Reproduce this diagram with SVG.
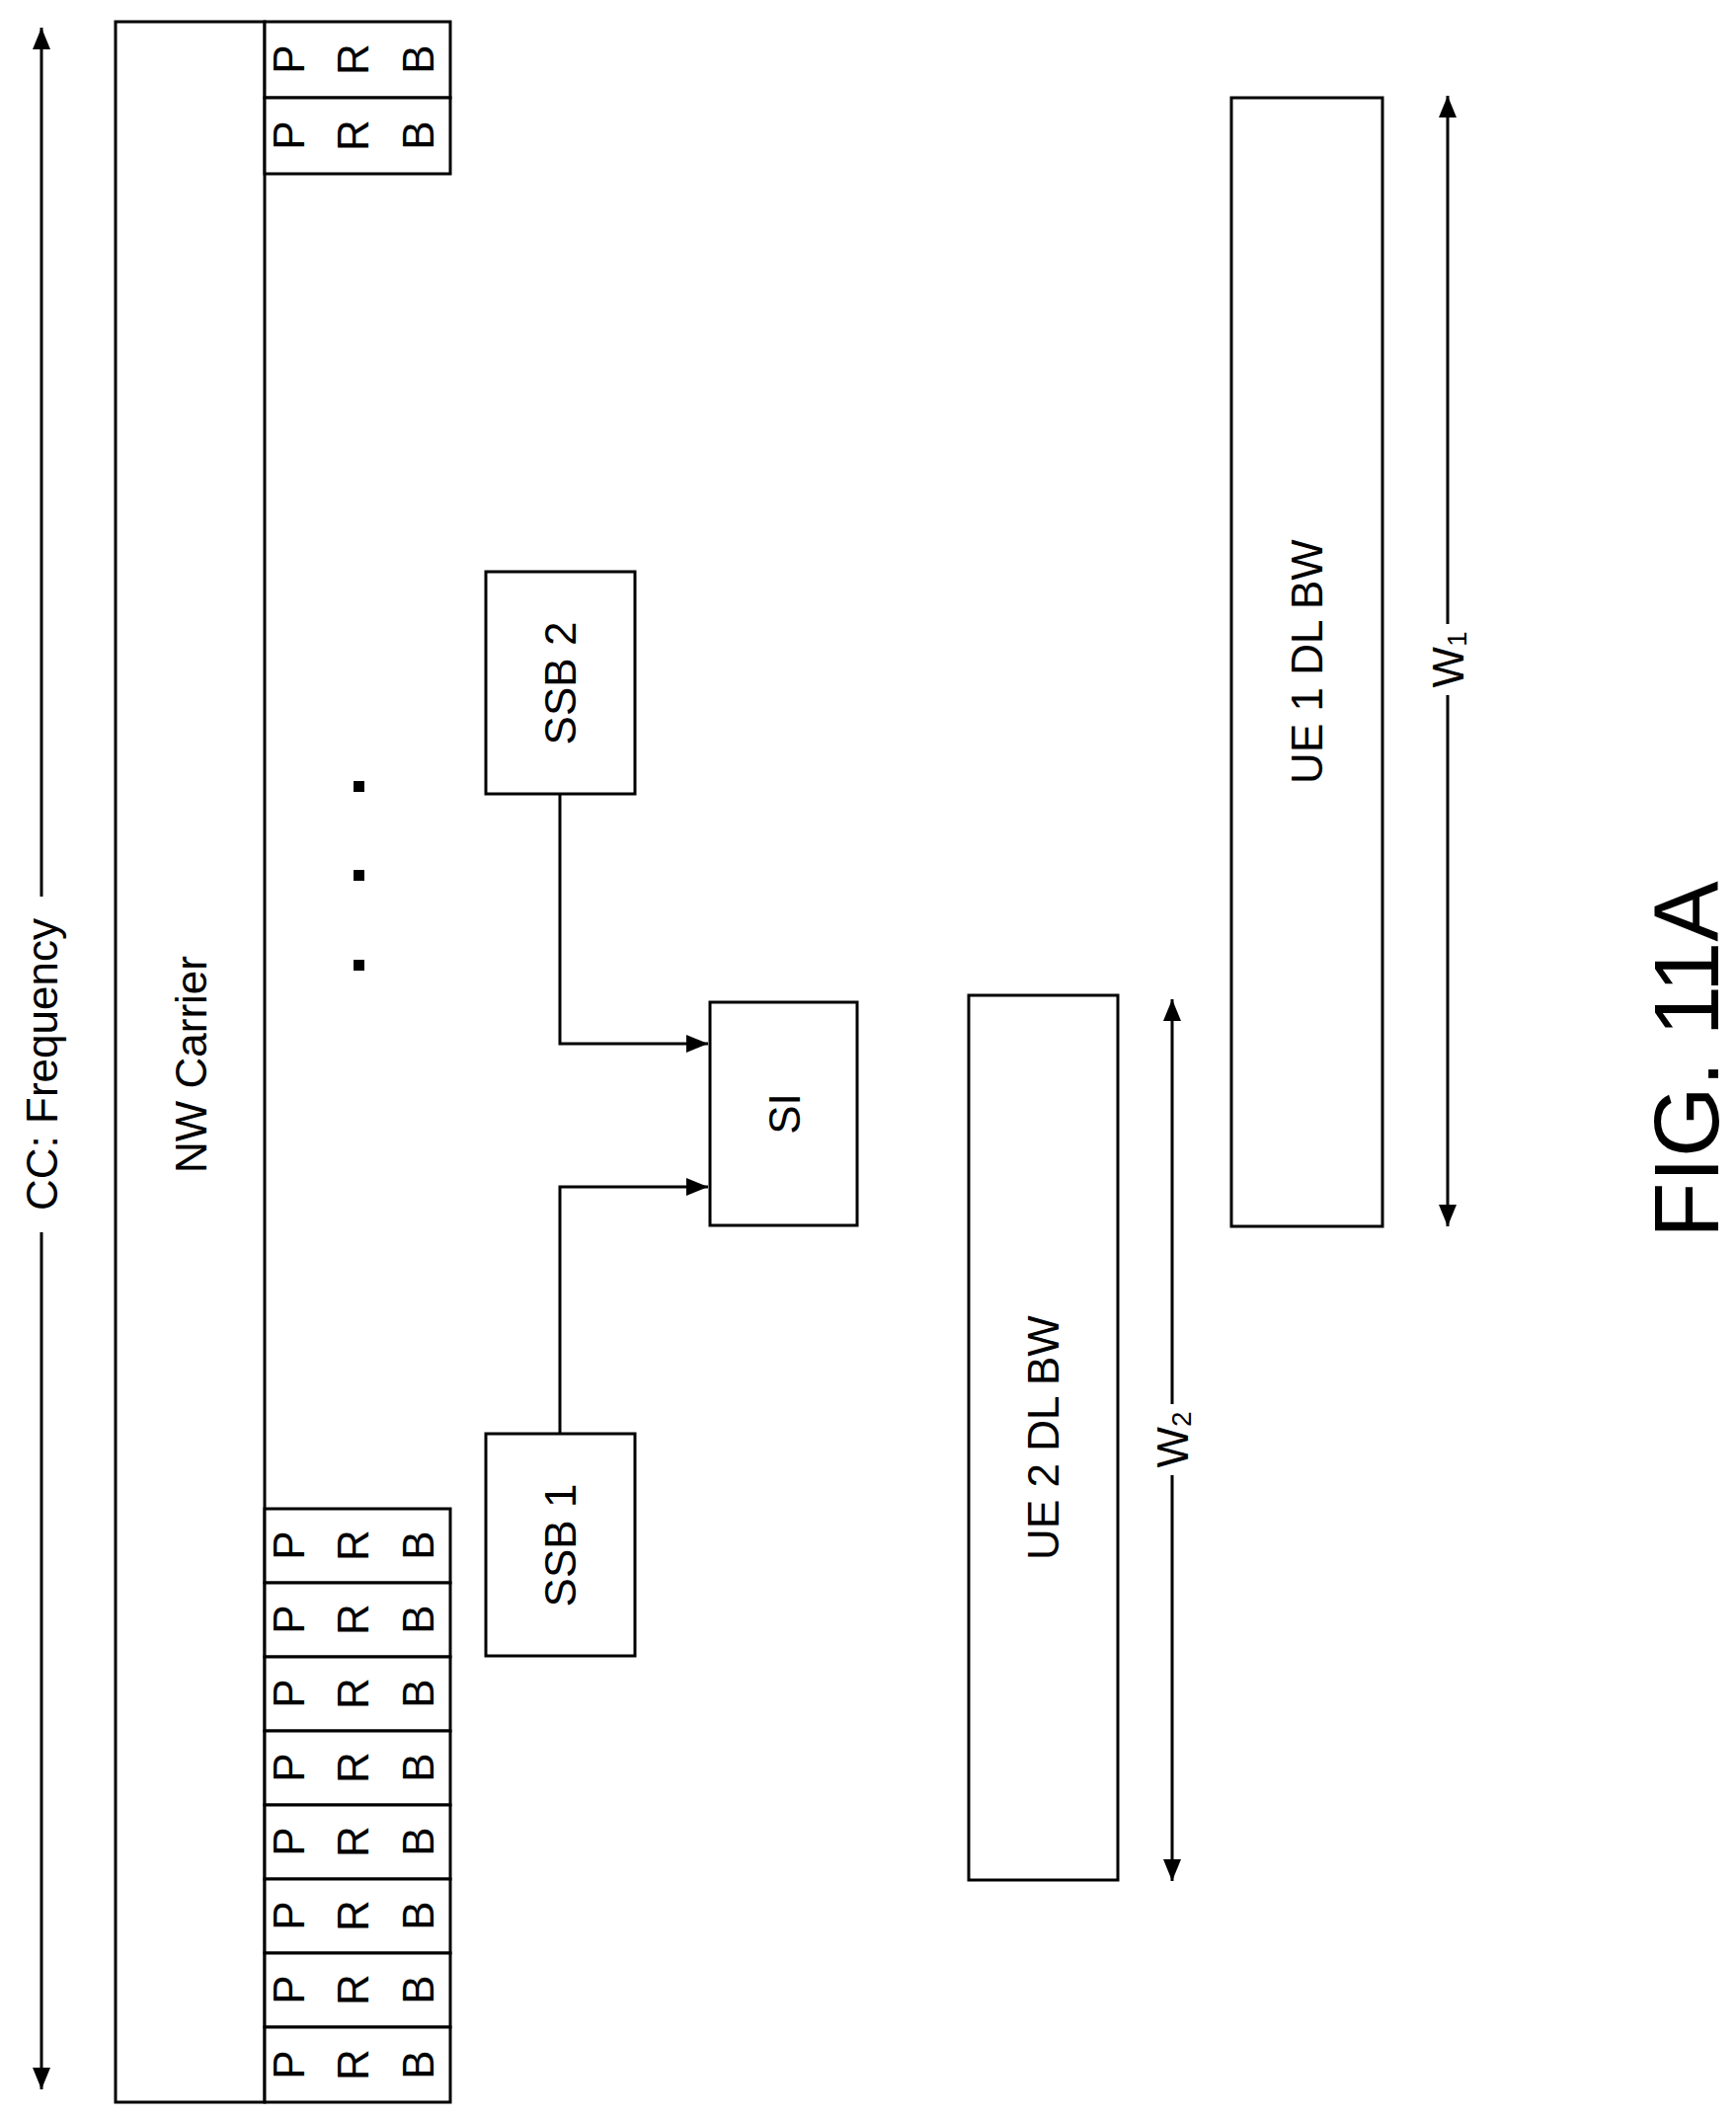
<svg xmlns="http://www.w3.org/2000/svg" width="1758" height="2144" viewBox="0 0 1758 2144">
<style>
.b{fill:#fff;stroke:#000;stroke-width:3}
.l{fill:none;stroke:#000;stroke-width:3}
text{font-family:"Liberation Sans",Arial,sans-serif;font-size:44px;fill:#000;text-anchor:middle;dominant-baseline:central}
.p{font-size:46px}
</style>
<defs>
<marker id="h" markerWidth="22" markerHeight="22" refX="22" refY="11" orient="auto-start-reverse" markerUnits="userSpaceOnUse"><path d="M0,2L22,11L0,20z"/></marker>
</defs>
<g id="axis">
<line class="l" x1="42" y1="2116" x2="42" y2="28" marker-end="url(#h)" marker-start="url(#h)"/>
<rect x="24" y="908" width="36" height="340" fill="#fff"/>
<text x="42" y="1078" transform="rotate(-90 42 1078)">CC: Frequency</text>
</g>
<g id="nw">
<rect class="b" x="117" y="22" width="151" height="2107"/>
<text x="193" y="1078" transform="rotate(-90 193 1078)">NW Carrier</text>
</g>
<g id="prb">
<rect class="b" x="268" y="22" width="188" height="77"/><rect class="b" x="268" y="99" width="188" height="77"/>
<rect class="b" x="268" y="1528" width="188" height="75"/><rect class="b" x="268" y="1603" width="188" height="75"/>
<rect class="b" x="268" y="1678" width="188" height="75"/><rect class="b" x="268" y="1753" width="188" height="75"/>
<rect class="b" x="268" y="1828" width="188" height="75"/><rect class="b" x="268" y="1903" width="188" height="75"/>
<rect class="b" x="268" y="1978" width="188" height="75"/><rect class="b" x="268" y="2053" width="188" height="76"/>
<g id="prbtext" class="p">
<g transform="translate(0,60)"><text x="292" y="0" transform="rotate(-90 292 0)">P</text><text x="357" y="0" transform="rotate(-90 357 0)">R</text><text x="423" y="0" transform="rotate(-90 423 0)">B</text></g>
<g transform="translate(0,137)"><text x="292" y="0" transform="rotate(-90 292 0)">P</text><text x="357" y="0" transform="rotate(-90 357 0)">R</text><text x="423" y="0" transform="rotate(-90 423 0)">B</text></g>
<g transform="translate(0,1565)"><text x="292" y="0" transform="rotate(-90 292 0)">P</text><text x="357" y="0" transform="rotate(-90 357 0)">R</text><text x="423" y="0" transform="rotate(-90 423 0)">B</text></g>
<g transform="translate(0,1640)"><text x="292" y="0" transform="rotate(-90 292 0)">P</text><text x="357" y="0" transform="rotate(-90 357 0)">R</text><text x="423" y="0" transform="rotate(-90 423 0)">B</text></g>
<g transform="translate(0,1715)"><text x="292" y="0" transform="rotate(-90 292 0)">P</text><text x="357" y="0" transform="rotate(-90 357 0)">R</text><text x="423" y="0" transform="rotate(-90 423 0)">B</text></g>
<g transform="translate(0,1790)"><text x="292" y="0" transform="rotate(-90 292 0)">P</text><text x="357" y="0" transform="rotate(-90 357 0)">R</text><text x="423" y="0" transform="rotate(-90 423 0)">B</text></g>
<g transform="translate(0,1865)"><text x="292" y="0" transform="rotate(-90 292 0)">P</text><text x="357" y="0" transform="rotate(-90 357 0)">R</text><text x="423" y="0" transform="rotate(-90 423 0)">B</text></g>
<g transform="translate(0,1940)"><text x="292" y="0" transform="rotate(-90 292 0)">P</text><text x="357" y="0" transform="rotate(-90 357 0)">R</text><text x="423" y="0" transform="rotate(-90 423 0)">B</text></g>
<g transform="translate(0,2015)"><text x="292" y="0" transform="rotate(-90 292 0)">P</text><text x="357" y="0" transform="rotate(-90 357 0)">R</text><text x="423" y="0" transform="rotate(-90 423 0)">B</text></g>
<g transform="translate(0,2091)"><text x="292" y="0" transform="rotate(-90 292 0)">P</text><text x="357" y="0" transform="rotate(-90 357 0)">R</text><text x="423" y="0" transform="rotate(-90 423 0)">B</text></g>
</g>
</g>
<g id="dots"><rect x="358" y="791" width="11" height="11"/><rect x="358" y="881" width="11" height="11"/><rect x="358" y="972" width="11" height="11"/></g>
<g id="ssb2"><rect class="b" x="492" y="579" width="151" height="225"/><text x="567" y="692" transform="rotate(-90 567 692)">SSB 2</text></g>
<g id="ssb1"><rect class="b" x="492" y="1452" width="151" height="225"/><text x="567" y="1565" transform="rotate(-90 567 1565)">SSB 1</text></g>
<g id="si"><rect class="b" x="719" y="1015" width="149" height="226"/><text x="794" y="1128" transform="rotate(-90 794 1128)">SI</text></g>
<g id="ue2"><rect class="b" x="981" y="1008" width="151" height="896"/><text x="1056" y="1456" transform="rotate(-90 1056 1456)">UE 2 DL BW</text></g>
<g id="ue1"><rect class="b" x="1247" y="99" width="153" height="1143"/><text x="1323" y="670" transform="rotate(-90 1323 670)">UE 1 DL BW</text></g>
<g id="connectors">
<path class="l" d="M567,804V1057H717" marker-end="url(#h)"/>
<path class="l" d="M567,1452V1202H717" marker-end="url(#h)"/>
<line class="l" x1="1187" y1="1905" x2="1187" y2="1012" marker-start="url(#h)" marker-end="url(#h)"/>
<line class="l" x1="1466" y1="1242" x2="1466" y2="97" marker-start="url(#h)" marker-end="url(#h)"/>
</g>
<g id="wlabels">
<rect x="1169" y="1422" width="36" height="72" fill="#fff"/>
<text x="1187" y="1458" transform="rotate(-90 1187 1458)">W<tspan font-size="28" dy="9">2</tspan></text>
<rect x="1448" y="632" width="36" height="72" fill="#fff"/>
<text x="1466" y="668" transform="rotate(-90 1466 668)">W<tspan font-size="28" dy="9">1</tspan></text>
</g>
<text x="1708" y="1073" transform="rotate(-90 1708 1073)" style="font-size:92px">FIG. 11A</text>
</svg>
